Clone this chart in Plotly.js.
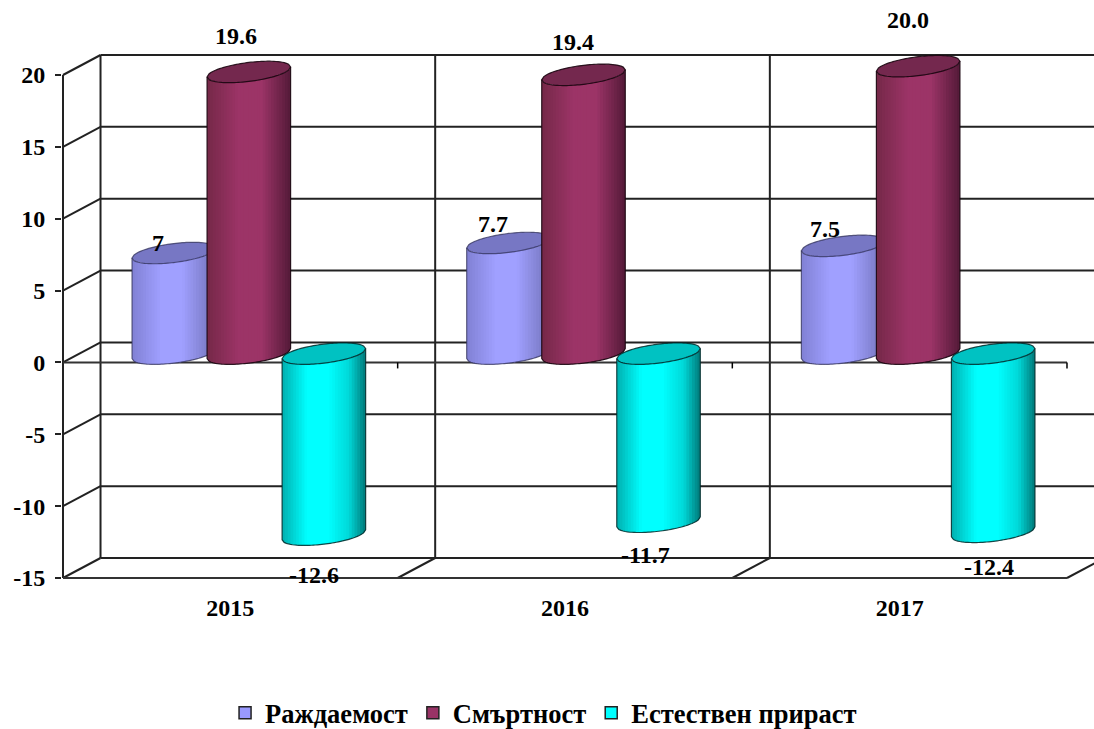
<!DOCTYPE html>
<html><head><meta charset="utf-8">
<script src="https://cdn.plot.ly/plotly-3.0.1.min.js"></script>
<style>html,body{margin:0;padding:0;background:#fff}</style></head>
<body><div id="chart" style="width:1094px;height:729px"></div>
<script>
const years = ['2015','2016','2017'];
const birthRate = [7, 7.7, 7.5];
const deathRate = [19.6, 19.4, 20.0];
const naturalGrowth = [-12.6, -11.7, -12.4];
const birthLabels = ['7','7.7','7.5'];
const deathLabels = ['19.6','19.4','20.0'];
const growthLabels = ['-12.6','-11.7','-12.4'];
const yTicks = [-15,-10,-5,0,5,10,15,20];

const FONT = '"Liberation Serif","Times New Roman",serif';
const PXX = 334.5, PXY = 14.37;            // pixels per axis unit
const px = v => v / PXX, py = v => v / PXY;
const DEPTH_X = px(37.5), DEPTH_Y = py(20); // back wall offset
const LIFT = py(8.8), SHIFT = px(18.5);     // cylinders stand mid-depth
const RX = px(41.75), SKEW = py(5), RY = py(9.5);

const series = [
  {name:'Раждаемост', vals:birthRate, labels:birthLabels, off:-px(75),
   fill:'#9999FF', cap:'#7777C4', stops:[[0,'#8080D4'],[.35,'#A0A0FF'],[.6,'#A0A0FF'],[1,'#7272B8']],
   edge:'rgba(50,50,90,0.75)', shift:[[-14.5,10],[-14.5,19],[-17,17]]},
  {name:'Смъртност', vals:deathRate, labels:deathLabels, off:0,
   fill:'#993366', cap:'#74284E', stops:[[0,'#752848'],[.38,'#9C3467'],[.65,'#9C3467'],[1,'#541A38']],
   edge:'rgba(25,5,15,0.9)', shift:[[-12,36],[-9.5,33],[-9,46]]},
  {name:'Естествен прираст', vals:naturalGrowth, labels:growthLabels, off:px(75),
   fill:'#00FFFF', cap:'#00C2C2', stops:[[0,'#00B0B0'],[.3,'#00FFFF'],[.55,'#00FFFF'],[.8,'#00D8D8'],[1,'#007878']],
   edge:'rgba(0,40,40,0.85)', shift:[[-8.5,-40],[-12.5,-33],[-3,-35]]}
];

function hex(c){return [1,3,5].map(i=>parseInt(c.substr(i,2),16));}
function shade(stops,t){
  for(let i=1;i<stops.length;i++){
    if(t<=stops[i][0]){
      const f=(t-stops[i-1][0])/(stops[i][0]-stops[i-1][0]);
      const a=hex(stops[i-1][1]),b=hex(stops[i][1]);
      return 'rgb('+a.map((v,k)=>Math.round(v+(b[k]-v)*f)).join(',')+')';
    }
  }
  return stops[stops.length-1][1];
}
const P = (x,y)=>x.toFixed(4)+','+y.toFixed(4);
const lower=(cy,r)=>cy+SKEW*r-RY*Math.sqrt(Math.max(0,1-r*r));
const upper=(cy,r)=>cy+SKEW*r+RY*Math.sqrt(Math.max(0,1-r*r));

const shapes=[];
const line=(x0,y0,x1,y1,w,c)=>shapes.push({type:'line',layer:'below',xref:'x',yref:'y',x0,y0,x1,y1,line:{color:c||'#222222',width:w||2}});
const LEFT=-0.5, RIGHT=2.5, EDGE=2.6, BOUNDS=[-0.5,0.5,1.5,2.5];

yTicks.forEach(v=>{
  line(LEFT+DEPTH_X,v+DEPTH_Y,EDGE,v+DEPTH_Y);
  if(v>-15) line(LEFT,v,LEFT+DEPTH_X,v+DEPTH_Y);
});
BOUNDS.slice(0,3).forEach(b=>line(b+DEPTH_X,-15+DEPTH_Y,b+DEPTH_X,20+DEPTH_Y));
BOUNDS.forEach(b=>line(b,-15,b+DEPTH_X,-15+DEPTH_Y));
line(LEFT,-15,LEFT,20);
line(LEFT,-15,RIGHT,-15,2,'#333333');
line(LEFT,0,RIGHT,0,2,'#333333');
BOUNDS.slice(1).forEach(b=>line(b,0,b,-py(6),1.5,'#000'));

const STRIPS=30;
series.forEach(s=>{
  s.vals.forEach((v,i)=>{
    const cx=i+s.off+SHIFT;
    const top=Math.max(v,0)+LIFT, bot=Math.min(v,0)+LIFT;
    for(let k=0;k<STRIPS;k++){
      const r0=-1+2*k/STRIPS, r1=Math.min(1,-1+2*(k+1.4)/STRIPS);
      const rr=[];for(let q=0;q<=3;q++)rr.push(r0+(r1-r0)*q/3);
      const pts=rr.map(r=>P(cx+RX*r,lower(top,r)))
        .concat(rr.slice().reverse().map(r=>P(cx+RX*r,lower(bot,r))));
      const col=shade(s.stops,(k+.5)/STRIPS);
      shapes.push({type:'path',layer:'above',xref:'x',yref:'y',path:'M'+pts.join('L')+'Z',fillcolor:col,line:{width:0}});
    }
    const arc=[];for(let q=0;q<=40;q++)arc.push(-1+q/20);
    shapes.push({type:'path',layer:'above',xref:'x',yref:'y',
      path:'M'+arc.map(r=>P(cx+RX*r,lower(top,r))).concat(arc.slice().reverse().map(r=>P(cx+RX*r,upper(top,r)))).join('L')+'Z',
      fillcolor:s.cap,line:{color:s.edge,width:1.2}});
    shapes.push({type:'path',layer:'above',xref:'x',yref:'y',
      path:'M'+P(cx-RX,lower(top,-1))+'L'+arc.map(r=>P(cx+RX*r,lower(bot,r))).join('L')+'L'+P(cx+RX,lower(top,1)),
      fillcolor:'rgba(0,0,0,0)',line:{color:s.edge,width:1.2}});
  });
});

const traces=series.map(s=>({
  type:'bar',name:s.name,x:years,y:s.vals,base:years.map(()=>LIFT),
  width:RX*2*0.7,offset:s.off+SHIFT-RX*0.7,
  marker:{color:s.fill,line:{color:'#222',width:1.5}},hoverinfo:'x+y+name'
}));

const annotations=[];
series.forEach(s=>s.vals.forEach((v,i)=>{
  annotations.push({x:i+s.off+SHIFT,y:v+LIFT,xref:'x',yref:'y',text:s.labels[i],showarrow:false,
    xanchor:'center',yanchor:'middle',xshift:s.shift[i][0]-1,yshift:s.shift[i][1],
    font:{family:FONT,size:24,color:'#000',weight:700}});
}));

const layout={
  width:1094,height:729,paper_bgcolor:'#fff',plot_bgcolor:'#fff',
  margin:{l:62,r:0,t:45,b:147,pad:0,autoexpand:false},
  barmode:'overlay',showlegend:true,
  font:{family:FONT,color:'#000'},
  xaxis:{type:'category',categoryorder:'array',categoryarray:years,range:[LEFT-px(1),RIGHT+px(27)],
    showgrid:false,zeroline:false,showline:false,ticks:'',ticklabelstandoff:9,
    tickfont:{family:FONT,size:24,color:'#000',weight:700}},
  yaxis:{range:[-15-py(4),20+py(30)],tickmode:'array',tickvals:yTicks,ticktext:yTicks.map(String),
    showgrid:false,zeroline:false,showline:false,ticks:'outside',ticklen:6,tickwidth:2,tickcolor:'#222222',
    ticklabelstandoff:5,
    tickfont:{family:FONT,size:24,color:'#000',weight:700}},
  legend:{orientation:'h',xref:'paper',yref:'paper',x:0.158,xanchor:'left',y:-0.244,yanchor:'middle',
    font:{family:FONT,size:26.5,color:'#000',weight:700},bgcolor:'rgba(0,0,0,0)',traceorder:'normal'},
  shapes,annotations
};
Plotly.newPlot('chart',traces,layout,{displayModeBar:false,staticPlot:true});
</script></body></html>
